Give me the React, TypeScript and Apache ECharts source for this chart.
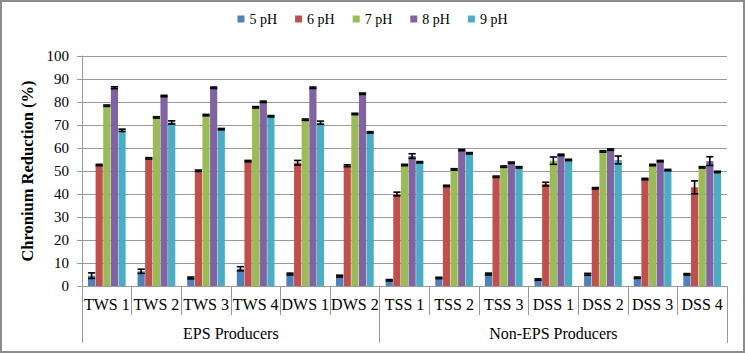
import React, { useEffect, useRef } from "react";
import * as echarts from "echarts";

const categories = ["TWS 1", "TWS 2", "TWS 3", "TWS 4", "DWS 1", "DWS 2", "TSS 1", "TSS 2", "TSS 3", "DSS 1", "DSS 2", "DSS 3", "DSS 4"];
const groupNames = ["EPS Producers", "Non-EPS Producers"];
const groupBounds = [0, 6, 13];
const groupCenters = [3, 9.5];
const seriesNames = ["5 pH", "6 pH", "7 pH", "8 pH", "9 pH"];
const colors = ["#4F81BD", "#C0504D", "#9BBB59", "#8064A2", "#4BACC6"];

const ph5 = [4.5, 6.4, 3.5, 7.5, 5.2, 4.3, 2.5, 3.5, 5.2, 2.8, 5.1, 3.6, 5.1];
const ph6 = [52.6, 55.5, 50.1, 54.3, 53.6, 52.3, 40.0, 43.5, 47.5, 44.3, 42.5, 46.5, 42.9];
const ph7 = [78.4, 73.3, 74.3, 77.7, 72.3, 74.8, 52.6, 50.7, 51.9, 54.5, 58.5, 52.6, 51.6];
const ph8 = [86.2, 82.6, 86.2, 80.1, 86.2, 83.6, 56.5, 59.1, 53.6, 57.0, 59.3, 54.3, 54.3];
const ph9 = [67.7, 71.1, 68.2, 73.8, 71.0, 66.8, 53.8, 57.7, 51.6, 54.8, 54.8, 50.4, 49.6];

const err5 = [1.2, 0.9, 0.4, 0.9, 0.4, 0.4, 0.3, 0.3, 0.4, 0.3, 0.4, 0.3, 0.3];
const err6 = [0.3, 0.3, 0.3, 0.3, 1.0, 0.4, 0.8, 0.3, 0.3, 0.8, 0.3, 0.3, 2.8];
const err7 = [0.3, 0.3, 0.3, 0.3, 0.3, 0.3, 0.3, 0.3, 0.3, 1.6, 0.3, 0.3, 0.3];
const err8 = [0.4, 0.3, 0.3, 0.3, 0.3, 0.3, 1.0, 0.3, 0.3, 0.3, 0.3, 0.3, 1.9];
const err9 = [0.5, 0.7, 0.3, 0.3, 0.7, 0.3, 0.3, 0.3, 0.3, 0.3, 1.7, 0.3, 0.3];

const yTicks = { min: 0, max: 100, interval: 10 };

const values = [ph5, ph6, ph7, ph8, ph9];
const errors = [err5, err6, err7, err8, err9];

const CAT_GAP = 0.24;
const BAR_GAP = 0.06;
const FONT = "Liberation Serif, Times New Roman, serif";
const AXIS_GRAY = "#999999";

export default function App() {
  const ref = useRef<HTMLDivElement>(null);

  useEffect(() => {
    if (!ref.current) return;
    const chart = echarts.init(ref.current, null, { renderer: "svg" });

    const errData: number[][] = [];
    values.forEach((arr, si) => {
      arr.forEach((v, ci) => {
        errData.push([ci, si, v, errors[si][ci]]);
      });
    });

    const n = seriesNames.length;

    const option: any = {
      animation: false,
      backgroundColor: "#ffffff",
      textStyle: { fontFamily: FONT },
      legend: {
        top: 7,
        left: "center",
        icon: "rect",
        itemWidth: 7,
        itemHeight: 7,
        itemGap: 18,
        data: seriesNames,
        textStyle: { fontFamily: FONT, fontSize: 14, color: "#000" },
      },
      grid: { left: 82, right: 18, top: 56, bottom: 67, containLabel: false },
      xAxis: [
        {
          type: "category",
          data: categories,
          boundaryGap: true,
          axisLine: { show: true, lineStyle: { color: AXIS_GRAY, width: 1 } },
          axisTick: { show: true, interval: 0, length: 29, lineStyle: { color: AXIS_GRAY, width: 1 } },
          axisLabel: { interval: 0, margin: 10, fontFamily: FONT, fontSize: 16, color: "#000" },
          splitLine: { show: false },
        },
        {
          type: "value",
          min: 0,
          max: categories.length,
          position: "bottom",
          axisLine: { show: false },
          axisTick: { show: true, customValues: groupBounds, length: 57, lineStyle: { color: AXIS_GRAY, width: 1 } },
          axisLabel: {
            customValues: groupCenters,
            margin: 39,
            fontFamily: FONT,
            fontSize: 16,
            color: "#000",
            formatter: (v: number) => (v < groupBounds[1] ? groupNames[0] : groupNames[1]),
          },
          splitLine: { show: false },
        },
      ],
      yAxis: {
        type: "value",
        min: yTicks.min,
        max: yTicks.max,
        interval: yTicks.interval,
        name: "Chronium Reduction (%)",
        nameLocation: "middle",
        nameGap: 44,
        nameTextStyle: { fontFamily: FONT, fontSize: 16.5, fontWeight: "bold", color: "#000" },
        axisLine: { show: true, lineStyle: { color: AXIS_GRAY, width: 1 } },
        axisTick: { show: true, length: 5, lineStyle: { color: AXIS_GRAY, width: 1 } },
        axisLabel: { margin: 13, fontFamily: FONT, fontSize: 15, color: "#000" },
        splitLine: { show: true, lineStyle: { color: AXIS_GRAY, width: 1 } },
      },
      series: [
        ...seriesNames.map((name, si) => ({
          name,
          type: "bar",
          data: values[si],
          itemStyle: { color: colors[si] },
          barCategoryGap: (CAT_GAP * 100).toFixed(0) + "%",
          barGap: (BAR_GAP * 100).toFixed(0) + "%",
        })),
        {
          type: "custom",
          name: "errors",
          xAxisIndex: 0,
          yAxisIndex: 0,
          encode: { x: 0, y: 2 },
          data: errData,
          z: 10,
          renderItem: (params: any, api: any) => {
            const cat = api.value(0);
            const si = api.value(1);
            const v = api.value(2);
            const e = api.value(3);
            const bandW = api.size([1, 0])[0];
            const groupW = bandW * (1 - CAT_GAP);
            const w = groupW / (n + (n - 1) * BAR_GAP);
            const cx = api.coord([cat, v])[0] - groupW / 2 + si * w * (1 + BAR_GAP) + w / 2;
            const yT = api.coord([cat, v + e])[1];
            const yB = api.coord([cat, v - e])[1];
            const half = w / 2;
            const st = { stroke: "#000", lineWidth: 1.6 };
            return {
              type: "group",
              children: [
                { type: "line", shape: { x1: cx, y1: yT, x2: cx, y2: yB }, style: st },
                { type: "line", shape: { x1: cx - half, y1: yT, x2: cx + half, y2: yT }, style: st },
                { type: "line", shape: { x1: cx - half, y1: yB, x2: cx + half, y2: yB }, style: st },
              ],
            };
          },
        },
      ],
    };

    chart.setOption(option);
    return () => chart.dispose();
  }, []);

  return (
    <div style={{ position: "fixed", left: 0, top: 0, width: 745, height: 353, background: "#fff" }}>
      <div ref={ref} style={{ position: "absolute", left: 0, top: 0, width: 745, height: 353 }} />
      <div
        style={{
          position: "absolute",
          left: 0,
          top: 0,
          width: 745,
          height: 353,
          boxSizing: "border-box",
          border: "2px solid #8c8c8c",
          pointerEvents: "none",
        }}
      />
    </div>
  );
}
